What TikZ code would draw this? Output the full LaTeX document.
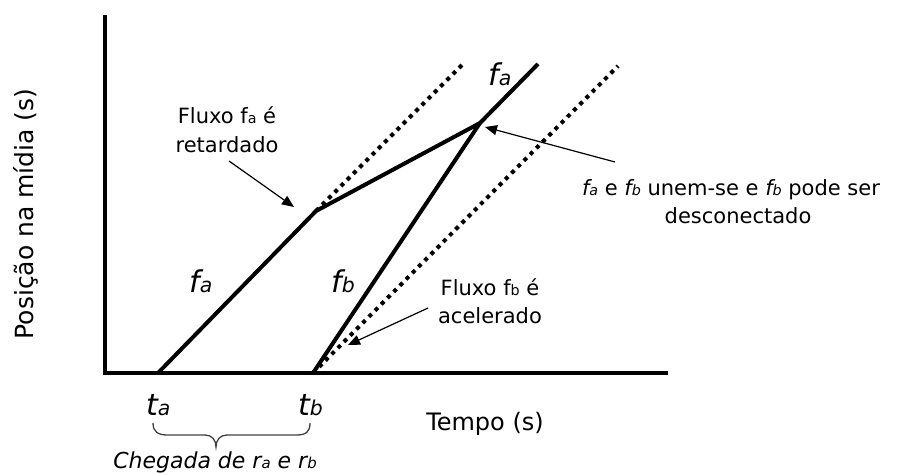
\documentclass[tikz,border=0pt]{standalone}
\usepackage{fontspec}
\setmainfont{DejaVu Sans}
\usetikzlibrary{arrows.meta}
\newcommand{\sbs}[1]{\scalebox{0.68}{#1}}
\begin{document}
\begin{tikzpicture}[x=1pt,y=-1pt,
  thickline/.style={line width=4pt},
  dotline/.style={line width=4pt, dash pattern=on 4pt off 4.8pt},
  callout/.style={line width=1.2pt, -{Triangle[length=12pt,width=10pt]}},
  lbl/.style={font=\fontsize{21}{25}\selectfont, inner sep=0pt, anchor=base},
  big/.style={font=\fontsize{30}{34}\selectfont\itshape, inner sep=1pt, anchor=base west, fill=white},
  bracestyle/.style={line width=1.3pt, draw=black!75}
]
\useasboundingbox (0,0) rectangle (912,474);
% key points
\coordinate (ytop) at (105,15);
\coordinate (O) at (105,373);
\coordinate (xend) at (668,373);
\coordinate (ta) at (158,373);
\coordinate (tb) at (313,373);
\coordinate (kink) at (316,211);
\coordinate (join) at (480,123);
\coordinate (faend) at (538,64);
\coordinate (d1end) at (463,64);
\coordinate (d2end) at (618,66);
% axes
\draw[thickline] (ytop) -- (O) -- (xend);
% streams
\draw[thickline] (ta) -- (kink) -- (join) -- (faend);
\draw[thickline] (tb) -- (join);
\draw[dotline] (kink) -- (d1end);
\draw[dotline] (tb) -- (d2end);
% stream labels
\node[big] (lfa) at (188,292) {f\sbs{a}};
\node[big] (lfb) at (330,292) {f\sbs{b}};
\node[big] (lfatop) at (487,85) {f\sbs{a}};
\node[big] (lta) at (145,415) {t\sbs{a}};
\node[big] (ltb) at (297,415) {t\sbs{b}};
% callouts
\node[lbl] (fluxa1) at (227,123) {Fluxo f\sbs{a} é};
\node[lbl] (fluxa2) at (227,152) {retardado};
\coordinate (ca1) at (229,161);
\coordinate (ca2) at (294,207);
\draw[callout] (ca1) -- (ca2);
\node[lbl] (fluxb1) at (490,295) {Fluxo f\sbs{b} é};
\node[lbl] (fluxb2) at (490,323) {acelerado};
\coordinate (cb1) at (428,308);
\coordinate (cb2) at (348,345);
\draw[callout] (cb1) -- (cb2);
\node[lbl] (une1) at (731,195) {\textit{f\sbs{a}} e \textit{f\sbs{b}} unem-se e \textit{f\sbs{b}} pode ser};
\node[lbl] (une2) at (738,223) {desconectado};
\coordinate (cc1) at (615,162);
\coordinate (cc2) at (485,127);
\draw[callout] (cc1) -- (cc2);
% axis titles
\node[font=\fontsize{24}{28}\selectfont, inner sep=0pt, anchor=base] (xlab) at (485,430) {Tempo (s)};
\node[font=\fontsize{25}{29}\selectfont, inner sep=0pt, anchor=base, rotate=90] (ylab) at (33,214) {Posição na mídia (s)};
% brace
\coordinate (bl) at (153,423);
\coordinate (br) at (310,423);
\coordinate (btip) at (216,447);
\draw[bracestyle] (bl) .. controls (153,432) and (158,435) .. (168,435) -- (205,435)
  .. controls (212,435) and (216,440) .. (btip)
  .. controls (216,440) and (220,435) .. (227,435) -- (296,435)
  .. controls (306,435) and (310,432) .. (br);
\node[lbl, font=\fontsize{22}{26}\selectfont\itshape] (chegada) at (215,468) {Chegada de r\sbs{a} e r\sbs{b}};
\end{tikzpicture}
\end{document}
